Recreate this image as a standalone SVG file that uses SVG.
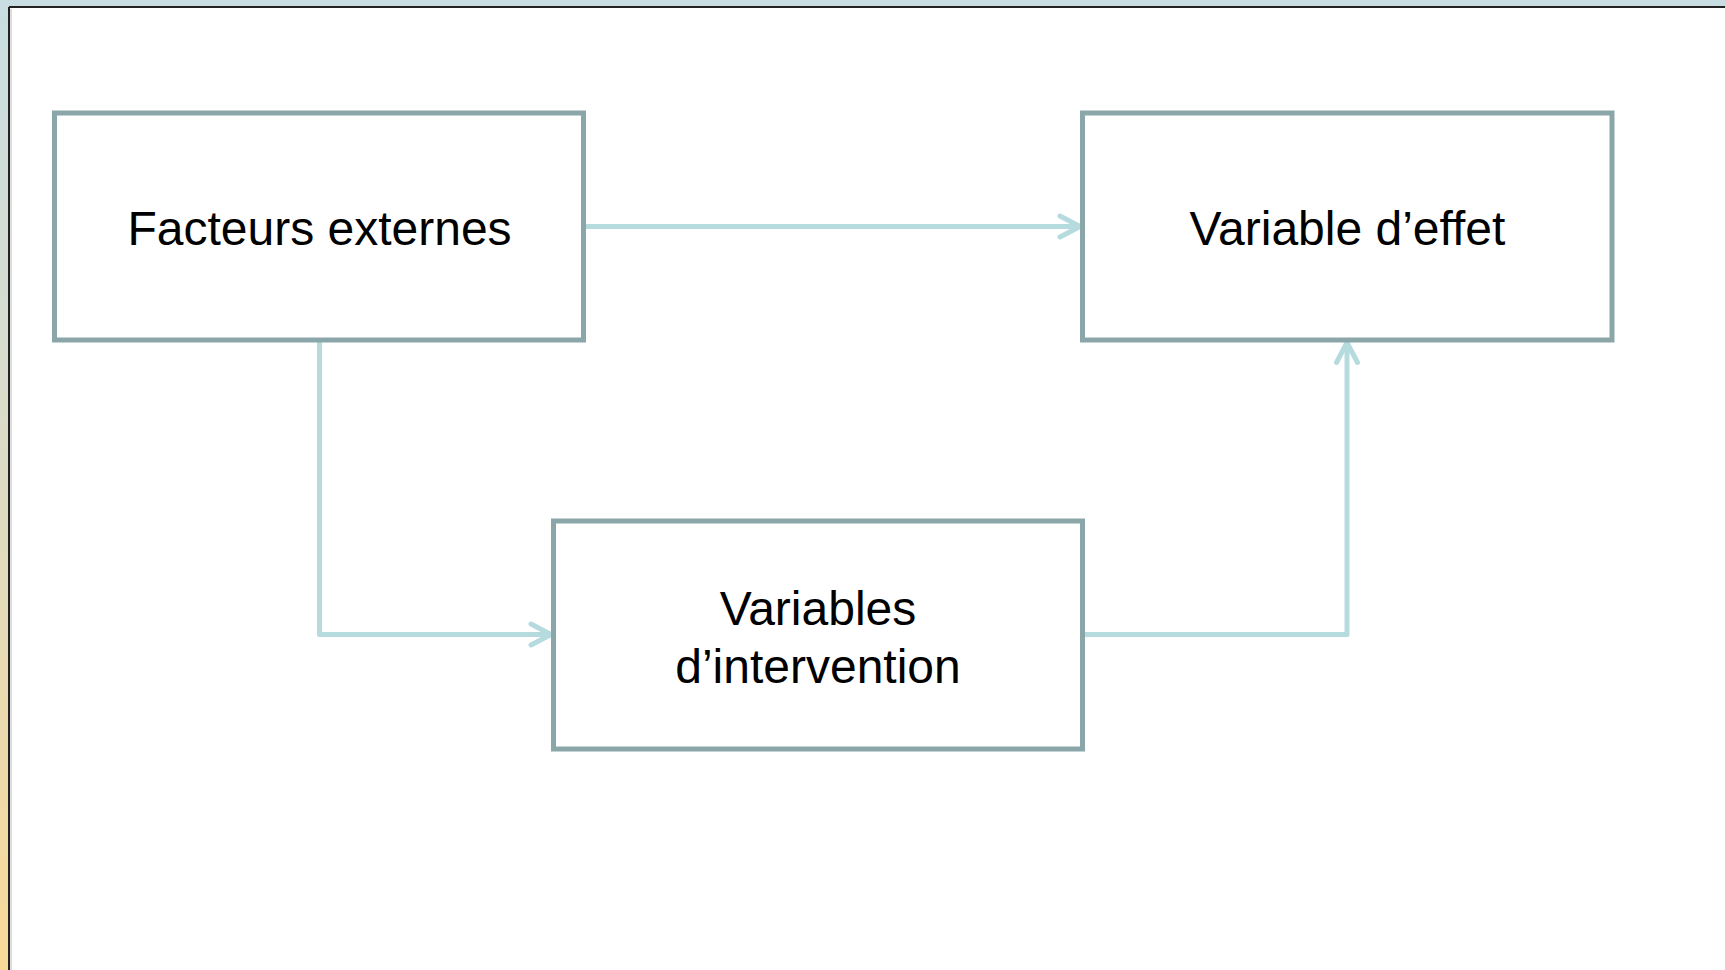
<svg xmlns="http://www.w3.org/2000/svg" width="1725" height="970" viewBox="0 0 1725 970">
<defs>
<linearGradient id="bg" x1="0" y1="0" x2="0" y2="1">
<stop offset="0" stop-color="#c8dde2"/>
<stop offset="0.4" stop-color="#d9dccc"/>
<stop offset="1" stop-color="#f8d998"/>
</linearGradient>
<marker id="arr" viewBox="0 0 12 12" refX="11" refY="6" markerWidth="12" markerHeight="12" markerUnits="userSpaceOnUse" orient="auto" overflow="visible">
<path d="M-9,-4.5 L11,6 L-9,16.5" fill="none" stroke="#b6dbdf" stroke-width="5" stroke-linecap="round" stroke-linejoin="round"/>
</marker>
<style>
.box{fill:#ffffff;stroke:#8ba6a9;stroke-width:5}
.con{fill:none;stroke:#b6dbdf;stroke-width:5;stroke-linejoin:round}
.lbl{font-family:"Liberation Sans",Arial,sans-serif;font-size:48px;fill:#000;text-anchor:middle}
</style>
</defs>
<rect x="0" y="0" width="1725" height="970" fill="url(#bg)"/>
<rect x="9" y="7" width="1716" height="963" fill="#ffffff"/>
<line x1="9" y1="7" x2="1725" y2="7" stroke="#222" stroke-width="2"/>
<line x1="9" y1="7" x2="9" y2="970" stroke="#222" stroke-width="2"/>
<line x1="11" y1="9" x2="11" y2="970" stroke="#bbb" stroke-width="1"/>
<g id="connectors">
<path class="con" d="M583.5,226.5 H1080" marker-end="url(#arr)"/>
<path class="con" d="M319.5,340 V634.5 H551" marker-end="url(#arr)"/>
<path class="con" d="M1082.5,634.5 H1347 V342.5" marker-end="url(#arr)"/>
</g>
<g id="node-facteurs">
<rect class="box" x="54.5" y="113" width="529" height="227"/>
<text class="lbl" x="319.5" y="245">Facteurs externes</text>
</g>
<g id="node-effet">
<rect class="box" x="1082.5" y="113" width="529.5" height="227"/>
<text class="lbl" x="1347.5" y="245">Variable d’effet</text>
</g>
<g id="node-intervention">
<rect class="box" x="553.5" y="521" width="529" height="228"/>
<text class="lbl" x="818" y="625">Variables</text>
<text class="lbl" x="818" y="683">d’intervention</text>
</g>
</svg>
